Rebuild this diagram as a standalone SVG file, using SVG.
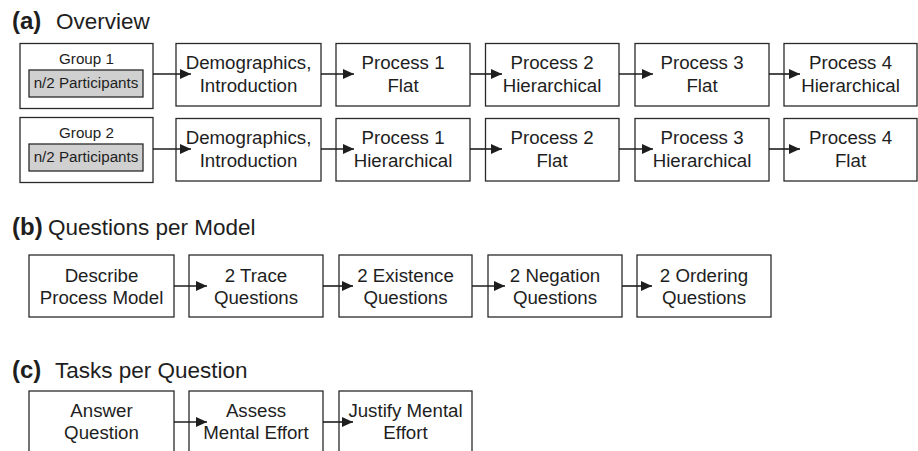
<svg xmlns="http://www.w3.org/2000/svg" width="918" height="451" viewBox="0 0 918 451">
<style>
.bx{fill:#fff;stroke:#2a2a2a;stroke-width:1.3}
.gb{fill:#d0d0d0;stroke:#2a2a2a;stroke-width:1.3}
.t{font-family:"Liberation Sans",Arial,sans-serif;font-size:18.7px;fill:#1e1e1e;text-anchor:middle}
.s{font-family:"Liberation Sans",Arial,sans-serif;font-size:15.2px;fill:#1e1e1e;text-anchor:middle}
.h{font-family:"Liberation Sans",Arial,sans-serif;font-size:22.5px;fill:#1e1e1e}
.hb{font-family:"Liberation Sans",Arial,sans-serif;font-size:24px;font-weight:bold;fill:#1e1e1e}
.ar{stroke:#1e1e1e;stroke-width:1.6;fill:none;marker-end:url(#ah)}
</style>
<defs>
<marker id="ah" markerUnits="userSpaceOnUse" markerWidth="12" markerHeight="11" refX="11" refY="5" orient="auto">
<path d="M0,0 L11,5 L0,10 z" fill="#1e1e1e"/>
</marker>
</defs>
<rect width="918" height="451" fill="#fff"/>

<g id="titles">
<text class="hb" x="12" y="29">(a)</text><text class="h" x="56" y="29">Overview</text>
<text class="hb" x="12" y="235">(b)</text><text class="h" x="48" y="235">Questions per Model</text>
<text class="hb" x="12" y="378">(c)</text><text class="h" x="55" y="378">Tasks per Question</text>
</g>

<g id="group1">
<rect class="bx" x="20" y="43.5" width="133" height="65"/>
<text class="s" x="86.5" y="64">Group 1</text>
<rect class="gb" x="29" y="70" width="114" height="27"/>
<text class="s" x="86" y="88">n/2 Participants</text>
</g>
<g id="group2">
<rect class="bx" x="20" y="117.5" width="133" height="65"/>
<text class="s" x="86.5" y="138">Group 2</text>
<rect class="gb" x="29" y="144" width="114" height="27"/>
<text class="s" x="86" y="162">n/2 Participants</text>
</g>

<g id="a1-demo"><rect class="bx" x="176" y="43.5" width="145" height="62.5"/><text class="t" x="248.5" y="69">Demographics,</text><text class="t" x="248.5" y="91.5">Introduction</text></g>
<g id="a1-p1"><rect class="bx" x="336" y="43.5" width="134" height="62.5"/><text class="t" x="403" y="69">Process 1</text><text class="t" x="403" y="91.5">Flat</text></g>
<g id="a1-p2"><rect class="bx" x="485.5" y="43.5" width="133.5" height="62.5"/><text class="t" x="552" y="69">Process 2</text><text class="t" x="552" y="91.5">Hierarchical</text></g>
<g id="a1-p3"><rect class="bx" x="635" y="43.5" width="134" height="62.5"/><text class="t" x="702" y="69">Process 3</text><text class="t" x="702" y="91.5">Flat</text></g>
<g id="a1-p4"><rect class="bx" x="784" y="43.5" width="133" height="62.5"/><text class="t" x="850.5" y="69">Process 4</text><text class="t" x="850.5" y="91.5">Hierarchical</text></g>

<g id="a2-demo"><rect class="bx" x="176" y="118.5" width="145" height="62.5"/><text class="t" x="248.5" y="144">Demographics,</text><text class="t" x="248.5" y="166.5">Introduction</text></g>
<g id="a2-p1"><rect class="bx" x="336" y="118.5" width="134" height="62.5"/><text class="t" x="403" y="144">Process 1</text><text class="t" x="403" y="166.5">Hierarchical</text></g>
<g id="a2-p2"><rect class="bx" x="485.5" y="118.5" width="133.5" height="62.5"/><text class="t" x="552" y="144">Process 2</text><text class="t" x="552" y="166.5">Flat</text></g>
<g id="a2-p3"><rect class="bx" x="635" y="118.5" width="134" height="62.5"/><text class="t" x="702" y="144">Process 3</text><text class="t" x="702" y="166.5">Hierarchical</text></g>
<g id="a2-p4"><rect class="bx" x="784" y="118.5" width="133" height="62.5"/><text class="t" x="850.5" y="144">Process 4</text><text class="t" x="850.5" y="166.5">Flat</text></g>

<g id="b-describe"><rect class="bx" x="29" y="255" width="145" height="62"/><text class="t" x="101.5" y="281.5">Describe</text><text class="t" x="101.5" y="303.5">Process Model</text></g>
<g id="b-trace"><rect class="bx" x="189" y="255" width="134" height="62"/><text class="t" x="256" y="281.5">2 Trace</text><text class="t" x="256" y="303.5">Questions</text></g>
<g id="b-existence"><rect class="bx" x="339" y="255" width="133" height="62"/><text class="t" x="405.5" y="281.5">2 Existence</text><text class="t" x="405.5" y="303.5">Questions</text></g>
<g id="b-negation"><rect class="bx" x="488" y="255" width="134" height="62"/><text class="t" x="555" y="281.5">2 Negation</text><text class="t" x="555" y="303.5">Questions</text></g>
<g id="b-ordering"><rect class="bx" x="637" y="255" width="134" height="62"/><text class="t" x="704" y="281.5">2 Ordering</text><text class="t" x="704" y="303.5">Questions</text></g>

<g id="c-answer"><rect class="bx" x="29" y="391" width="145" height="80"/><text class="t" x="101.5" y="416.5">Answer</text><text class="t" x="101.5" y="438.5">Question</text></g>
<g id="c-assess"><rect class="bx" x="189" y="391" width="134" height="80"/><text class="t" x="256" y="416.5">Assess</text><text class="t" x="256" y="438.5">Mental Effort</text></g>
<g id="c-justify"><rect class="bx" x="339" y="391" width="133" height="80"/><text class="t" x="405.5" y="416.5">Justify Mental</text><text class="t" x="405.5" y="438.5">Effort</text></g>

<g id="connectors">
<line class="ar" x1="153" y1="74" x2="191" y2="74"/>
<line class="ar" x1="321" y1="74" x2="354" y2="74"/>
<line class="ar" x1="470" y1="74" x2="502" y2="74"/>
<line class="ar" x1="619" y1="74" x2="653" y2="74"/>
<line class="ar" x1="769" y1="74" x2="800" y2="74"/>
<line class="ar" x1="153" y1="149" x2="191" y2="149"/>
<line class="ar" x1="321" y1="149" x2="354" y2="149"/>
<line class="ar" x1="470" y1="149" x2="502" y2="149"/>
<line class="ar" x1="619" y1="149" x2="653" y2="149"/>
<line class="ar" x1="769" y1="149" x2="800" y2="149"/>
<line class="ar" x1="174" y1="286" x2="207" y2="286"/>
<line class="ar" x1="323" y1="286" x2="353" y2="286"/>
<line class="ar" x1="472" y1="286" x2="505" y2="286"/>
<line class="ar" x1="622" y1="286" x2="652" y2="286"/>
<line class="ar" x1="174" y1="422" x2="207" y2="422"/>
<line class="ar" x1="323" y1="422" x2="353" y2="422"/>
</g>
</svg>
